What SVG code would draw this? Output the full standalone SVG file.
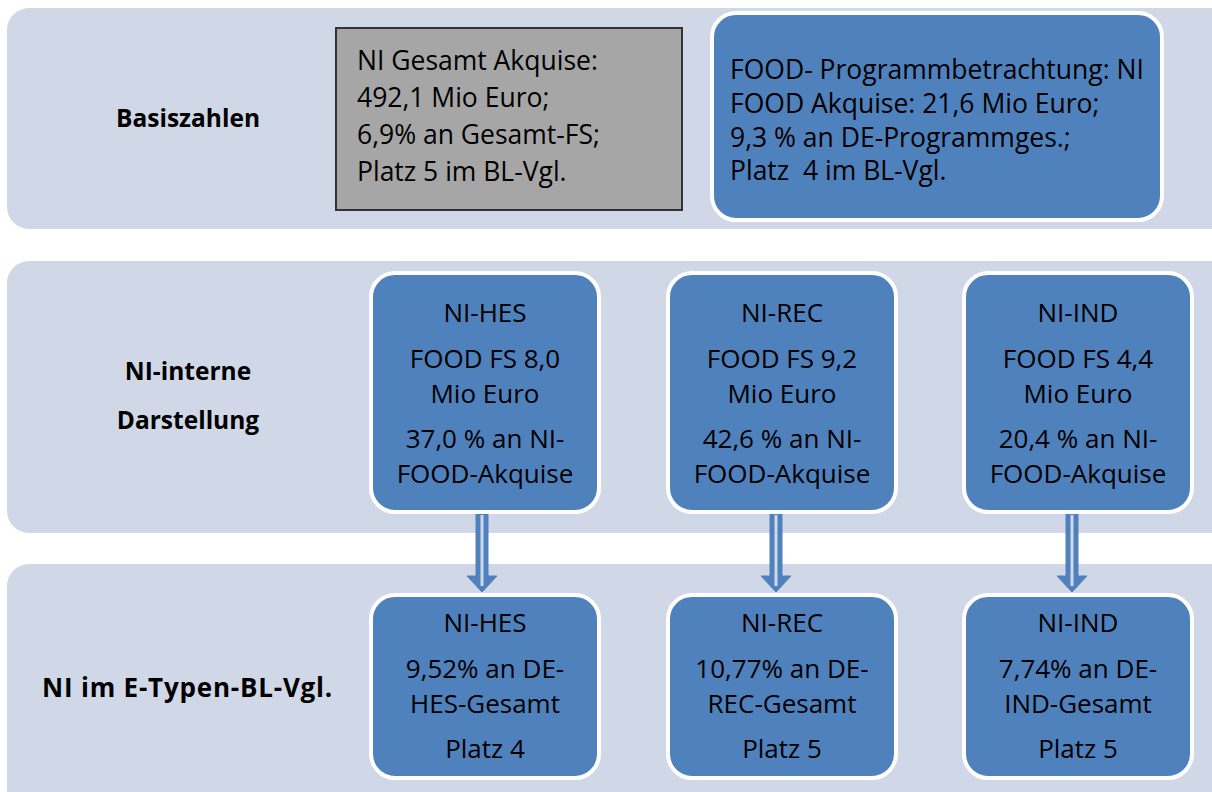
<svg xmlns="http://www.w3.org/2000/svg" width="1212" height="792" viewBox="0 0 1212 792">
<defs>
<style>
.band{fill:#d0d7e6}
.node{fill:#4f81bd;stroke:#ffffff;stroke-width:4}
.gray{fill:#a6a6a6;stroke:#333333;stroke-width:2}
text{font-family:"Open Sans","Liberation Sans",sans-serif;font-size:26px;fill:#000}
.t{font-size:26.5px}
.c{text-anchor:middle}
.lbl{font-weight:bold;font-size:24.5px}
.big{font-size:26px;letter-spacing:0.8px}
.arrow{fill:#4f81bd;stroke:#4f81bd;stroke-width:1}
.inner{stroke:#d0d7e6;stroke-width:3}
</style>
</defs>
<rect width="1212" height="792" fill="#ffffff"/>
<g id="bands">
<rect class="band" x="7" y="8" width="1230" height="221" rx="22"/>
<rect class="band" x="7" y="261" width="1230" height="272" rx="22"/>
<rect class="band" x="7" y="564" width="1230" height="260" rx="22"/>
</g>
<g id="labels">
<text class="lbl c" x="188" y="127">Basiszahlen</text>
<text class="lbl c" x="188" y="380">NI-interne</text>
<text class="lbl c" x="188" y="429">Darstellung</text>
<text class="lbl big" x="42" y="697">NI im E-Typen-BL-Vgl.</text>
</g>
<g id="connectors">
<g>
<path class="arrow" d="M476,513 H488 V576 H497 L482,592 L467,576 H476 Z"/>
<line class="inner" x1="482" y1="515" x2="482" y2="586"/>
</g>
<g>
<path class="arrow" d="M770,513 H782 V576 H791 L776,592 L761,576 H770 Z"/>
<line class="inner" x1="776" y1="515" x2="776" y2="586"/>
</g>
<g>
<path class="arrow" d="M1066,513 H1078 V576 H1087 L1072,592 L1057,576 H1066 Z"/>
<line class="inner" x1="1072" y1="515" x2="1072" y2="586"/>
</g>
</g>
<g id="node-gesamt">
<rect class="gray" x="336" y="28" width="346" height="182"/>
<text class="t" x="357" y="70">NI Gesamt Akquise:</text>
<text class="t" x="357" y="107">492,1 Mio Euro;</text>
<text class="t" x="357" y="144">6,9% an Gesamt-FS;</text>
<text class="t" x="357" y="181">Platz 5 im BL-Vgl.</text>
</g>
<g id="node-food">
<rect class="node" x="712" y="13" width="450" height="207" rx="24"/>
<text class="t" x="730" y="79">FOOD- Programmbetrachtung: NI</text>
<text class="t" x="730" y="113">FOOD Akquise: 21,6 Mio Euro;</text>
<text class="t" x="730" y="147">9,3 % an DE-Programmges.;</text>
<text class="t" x="730" y="180" xml:space="preserve">Platz  4 im BL-Vgl.</text>
</g>
<g id="node-ni-hes">
<rect class="node" x="371" y="273" width="228" height="239" rx="24"/>
<text class="c" x="485" y="322">NI-HES</text>
<text class="c" x="485" y="368">FOOD FS 8,0</text>
<text class="c" x="485" y="403">Mio Euro</text>
<text class="c" x="485" y="448">37,0 % an NI-</text>
<text class="c" x="485" y="483">FOOD-Akquise</text>
</g>
<g id="node-ni-rec">
<rect class="node" x="668" y="273" width="228" height="239" rx="24"/>
<text class="c" x="782" y="322">NI-REC</text>
<text class="c" x="782" y="368">FOOD FS 9,2</text>
<text class="c" x="782" y="403">Mio Euro</text>
<text class="c" x="782" y="448">42,6 % an NI-</text>
<text class="c" x="782" y="483">FOOD-Akquise</text>
</g>
<g id="node-ni-ind">
<rect class="node" x="964" y="273" width="228" height="239" rx="24"/>
<text class="c" x="1078" y="322">NI-IND</text>
<text class="c" x="1078" y="368">FOOD FS 4,4</text>
<text class="c" x="1078" y="403">Mio Euro</text>
<text class="c" x="1078" y="448">20,4 % an NI-</text>
<text class="c" x="1078" y="483">FOOD-Akquise</text>
</g>
<g id="node-hes-vgl">
<rect class="node" x="371" y="595" width="228" height="183" rx="24"/>
<text class="c" x="485" y="632">NI-HES</text>
<text class="c" x="485" y="678">9,52% an DE-</text>
<text class="c" x="485" y="713">HES-Gesamt</text>
<text class="c" x="485" y="758">Platz 4</text>
</g>
<g id="node-rec-vgl">
<rect class="node" x="668" y="595" width="228" height="183" rx="24"/>
<text class="c" x="782" y="632">NI-REC</text>
<text class="c" x="782" y="678">10,77% an DE-</text>
<text class="c" x="782" y="713">REC-Gesamt</text>
<text class="c" x="782" y="758">Platz 5</text>
</g>
<g id="node-ind-vgl">
<rect class="node" x="964" y="595" width="228" height="183" rx="24"/>
<text class="c" x="1078" y="632">NI-IND</text>
<text class="c" x="1078" y="678">7,74% an DE-</text>
<text class="c" x="1078" y="713">IND-Gesamt</text>
<text class="c" x="1078" y="758">Platz 5</text>
</g>
</svg>
